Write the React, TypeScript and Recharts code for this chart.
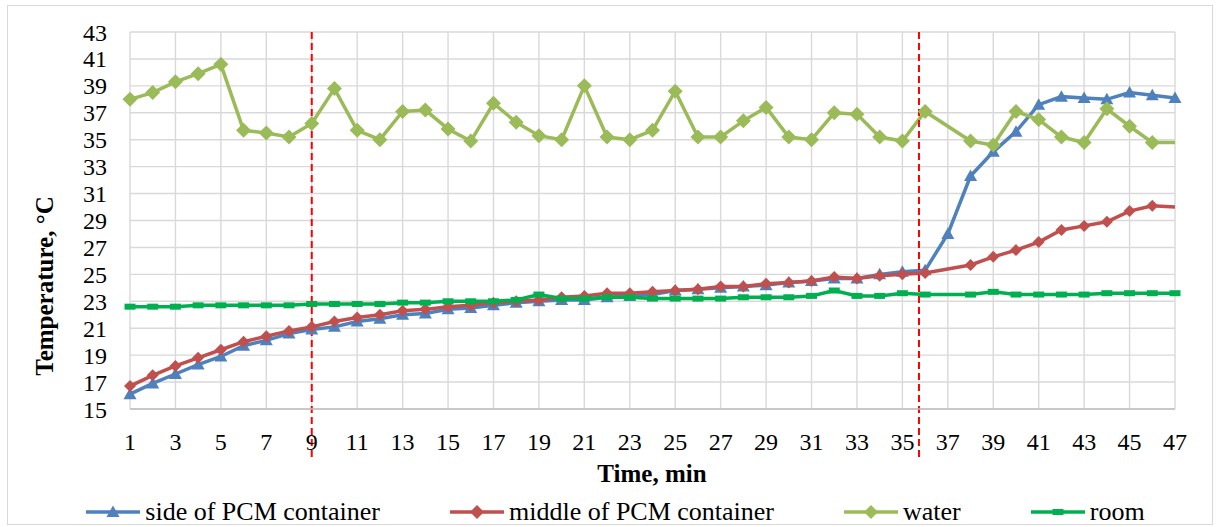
import { LineChart, Line, XAxis, YAxis, CartesianGrid, ReferenceLine } from 'recharts';

// minutes of the run, one reading per minute
const minutes = [
  1, 2, 3, 4, 5, 6, 7, 8, 9, 10, 11, 12, 13, 14, 15, 16, 17, 18, 19, 20, 21, 22, 23, 24,
  25, 26, 27, 28, 29, 30, 31, 32, 33, 34, 35, 36, 37, 38, 39, 40, 41, 42, 43, 44, 45, 46, 47,
];

const sideTemps = [
  16.1, 16.9, 17.6, 18.3, 18.9, 19.7, 20.1, 20.6, 20.9, 21.1, 21.5, 21.7, 22.0, 22.1, 22.4, 22.5,
  22.7, 22.9, 23.0, 23.1, 23.1, 23.3, 23.4, 23.5, 23.8, 23.9, 24.0, 24.1, 24.2, 24.4, 24.5, 24.7,
  24.7, 25.0, 25.2, 25.3, 28.0, 32.3, 34.1, 35.6, 37.6, 38.2, 38.1, 38.0, 38.5, 38.3, 38.1,
];

const middleTemps = [
  16.7, 17.5, 18.2, 18.8, 19.4, 20.0, 20.4, 20.8, 21.1, 21.5, 21.8, 22.0, 22.3, 22.4, 22.6, 22.7,
  22.9, 23.0, 23.1, 23.3, 23.4, 23.6, 23.6, 23.7, 23.8, 23.9, 24.1, 24.1, 24.3, 24.4, 24.5, 24.8,
  24.7, 24.9, 25.0, 25.1, null, 25.7, 26.3, 26.8, 27.4, 28.3, 28.6, 28.9, 29.7, 30.1, 30.0,
];

const waterTemps = [
  38.0, 38.5, 39.3, 39.9, 40.6, 35.7, 35.5, 35.2, 36.2, 38.8, 35.7, 35.0, 37.1, 37.2, 35.8, 34.9,
  37.7, 36.3, 35.3, 35.0, 39.0, 35.2, 35.0, 35.7, 38.6, 35.2, 35.2, 36.4, 37.4, 35.2, 35.0, 37.0,
  36.9, 35.2, 34.9, 37.1, null, 34.9, 34.6, 37.1, 36.5, 35.2, 34.8, 37.3, 36.0, 34.8, 34.8,
];

const roomTemps = [
  22.6, 22.6, 22.6, 22.7, 22.7, 22.7, 22.7, 22.7, 22.8, 22.8, 22.8, 22.8, 22.9, 22.9, 23.0, 23.0,
  23.0, 23.1, 23.5, 23.2, 23.2, 23.3, 23.3, 23.2, 23.2, 23.2, 23.2, 23.3, 23.3, 23.3, 23.4, 23.8,
  23.4, 23.4, 23.6, 23.5, null, 23.5, 23.7, 23.5, 23.5, 23.5, 23.5, 23.6, 23.6, 23.6, 23.6,
];

const xTicks = [1, 3, 5, 7, 9, 11, 13, 15, 17, 19, 21, 23, 25, 27, 29, 31, 33, 35, 37, 39, 41, 43, 45, 47];
const yTicks = [15, 17, 19, 21, 23, 25, 27, 29, 31, 33, 35, 37, 39, 41, 43];

// phase boundaries (minutes)
const phaseMarks = [9, 35.73];

const BLUE = '#4f81bd';
const RED = '#c0504d';
const LIME = '#9bbb59';
const GREEN = '#00b050';
const FONT = '"Liberation Serif", "Times New Roman", serif';

const data = minutes.map((m, i) => ({
  minute: m,
  side: sideTemps[i],
  middle: middleTemps[i],
  water: waterTemps[i],
  room: roomTemps[i],
}));

const lastMinute = minutes[minutes.length - 1];

const hasPoint = (p: any) => p.cx != null && p.cy != null && !isNaN(p.cx) && !isNaN(p.cy) && p.value != null;

const Triangle = (p: any) => {
  if (!hasPoint(p)) return <g key={p.key} />;
  const { cx, cy } = p;
  return <path key={p.key} d={`M${cx},${cy - 6.5} L${cx + 6.5},${cy + 5} L${cx - 6.5},${cy + 5} Z`} fill={BLUE} />;
};

const diamond = (size: number, color: string, skipLast: boolean) => (p: any) => {
  if (!hasPoint(p) || (skipLast && p.payload.minute === lastMinute)) return <g key={p.key} />;
  const { cx, cy } = p;
  return (
    <path
      key={p.key}
      d={`M${cx},${cy - size} L${cx + size},${cy} L${cx},${cy + size} L${cx - size},${cy} Z`}
      fill={color}
    />
  );
};

const Dash = (p: any) => {
  if (!hasPoint(p)) return <g key={p.key} />;
  return <rect key={p.key} x={p.cx - 5.5} y={p.cy - 3} width={11} height={6} fill={GREEN} />;
};

// dashed marker running from the plot top down past the tick labels
const PhaseLine = (p: any) => {
  const top = Math.min(p.y1, p.y2);
  const bottom = Math.max(p.y1, p.y2) + 48;
  return <line x1={p.x1} y1={top} x2={p.x2} y2={bottom} stroke="#ff0000" strokeWidth={2} strokeDasharray="7 4" />;
};

const legendItems = [
  { name: 'side of PCM container', color: BLUE, marker: 'triangle' },
  { name: 'middle of PCM container', color: RED, marker: 'diamond' },
  { name: 'water', color: LIME, marker: 'diamond' },
  { name: 'room', color: GREEN, marker: 'dash' },
];

function LegendIcon({ color, marker }: { color: string; marker: string }) {
  return (
    <svg width={54} height={20}>
      <line x1={0} y1={10} x2={54} y2={10} stroke={color} strokeWidth={3.5} />
      {marker === 'triangle' && <path d="M27,3.5 L33.5,15 L20.5,15 Z" fill={color} />}
      {marker === 'diamond' && <path d="M27,3 L34,10 L27,17 L20,10 Z" fill={color} />}
      {marker === 'dash' && <rect x={21.5} y={7} width={11} height={6} fill={color} />}
    </svg>
  );
}

export default function App() {
  return (
    <div style={{ position: 'absolute', left: 0, top: 0, width: 1217, height: 527, background: '#fff', fontFamily: FONT }}>
      <div
        style={{
          position: 'absolute',
          left: 7,
          top: 5,
          width: 1204,
          height: 518,
          border: '1px solid #d9d9d9',
        }}
      />
      <div style={{ position: 'absolute', left: 0, top: 0 }}>
        <LineChart width={1217} height={527} data={data} margin={{ top: 32, right: 42, bottom: 0, left: 0 }}>
          <CartesianGrid stroke="#d9d9d9" strokeWidth={1.4} />
          <XAxis
            dataKey="minute"
            type="number"
            domain={[1, 47]}
            ticks={xTicks}
            interval={0}
            height={118}
            tickSize={0}
            tickMargin={24}
            axisLine={{ stroke: '#bfbfbf', strokeWidth: 1.6 }}
            tick={{ fill: '#000', fontSize: 24, fontFamily: FONT }}
            label={{
              content: () => (
                <text x={652} y={473} textAnchor="middle" dominantBaseline="central" fontFamily={FONT} fontSize={25} fontWeight="bold" fill="#000">
                  Time, min
                </text>
              ),
            }}
          />
          <YAxis
            type="number"
            domain={[15, 43]}
            ticks={yTicks}
            interval={0}
            width={130}
            tickSize={0}
            tickMargin={23}
            axisLine={false}
            tick={{ fill: '#000', fontSize: 24, fontFamily: FONT }}
            label={{
              content: () => (
                <text
                  x={44}
                  y={286}
                  transform="rotate(-90 44 286)"
                  textAnchor="middle"
                  dominantBaseline="central"
                  fontFamily={FONT}
                  fontSize={25}
                  fontWeight="bold"
                  fill="#000"
                >
                  Temperature, °C
                </text>
              ),
            }}
          />
          <Line dataKey="side" stroke={BLUE} strokeWidth={3.5} dot={Triangle} activeDot={false} connectNulls isAnimationActive={false} />
          <Line dataKey="middle" stroke={RED} strokeWidth={3.5} dot={diamond(6, RED, true)} activeDot={false} connectNulls isAnimationActive={false} />
          <Line dataKey="water" stroke={LIME} strokeWidth={3.5} dot={diamond(7.5, LIME, true)} activeDot={false} connectNulls isAnimationActive={false} />
          <Line dataKey="room" stroke={GREEN} strokeWidth={3.5} dot={Dash} activeDot={false} connectNulls isAnimationActive={false} />
          {phaseMarks.map((m) => (
            <ReferenceLine key={m} x={m} stroke="#ff0000" strokeWidth={2} strokeDasharray="7 4" shape={PhaseLine} />
          ))}
        </LineChart>
      </div>
      <div
        style={{
          position: 'absolute',
          left: 0,
          top: 498,
          width: 1217,
          height: 28,
          display: 'flex',
          justifyContent: 'center',
          alignItems: 'center',
          gap: 70,
          paddingLeft: 14,
          boxSizing: 'border-box',
        }}
      >
        {legendItems.map((it) => (
          <div key={it.name} style={{ display: 'flex', alignItems: 'center', gap: 5 }}>
            <LegendIcon color={it.color} marker={it.marker} />
            <span style={{ fontSize: 26, lineHeight: '28px', color: '#000' }}>{it.name}</span>
          </div>
        ))}
      </div>
    </div>
  );
}
